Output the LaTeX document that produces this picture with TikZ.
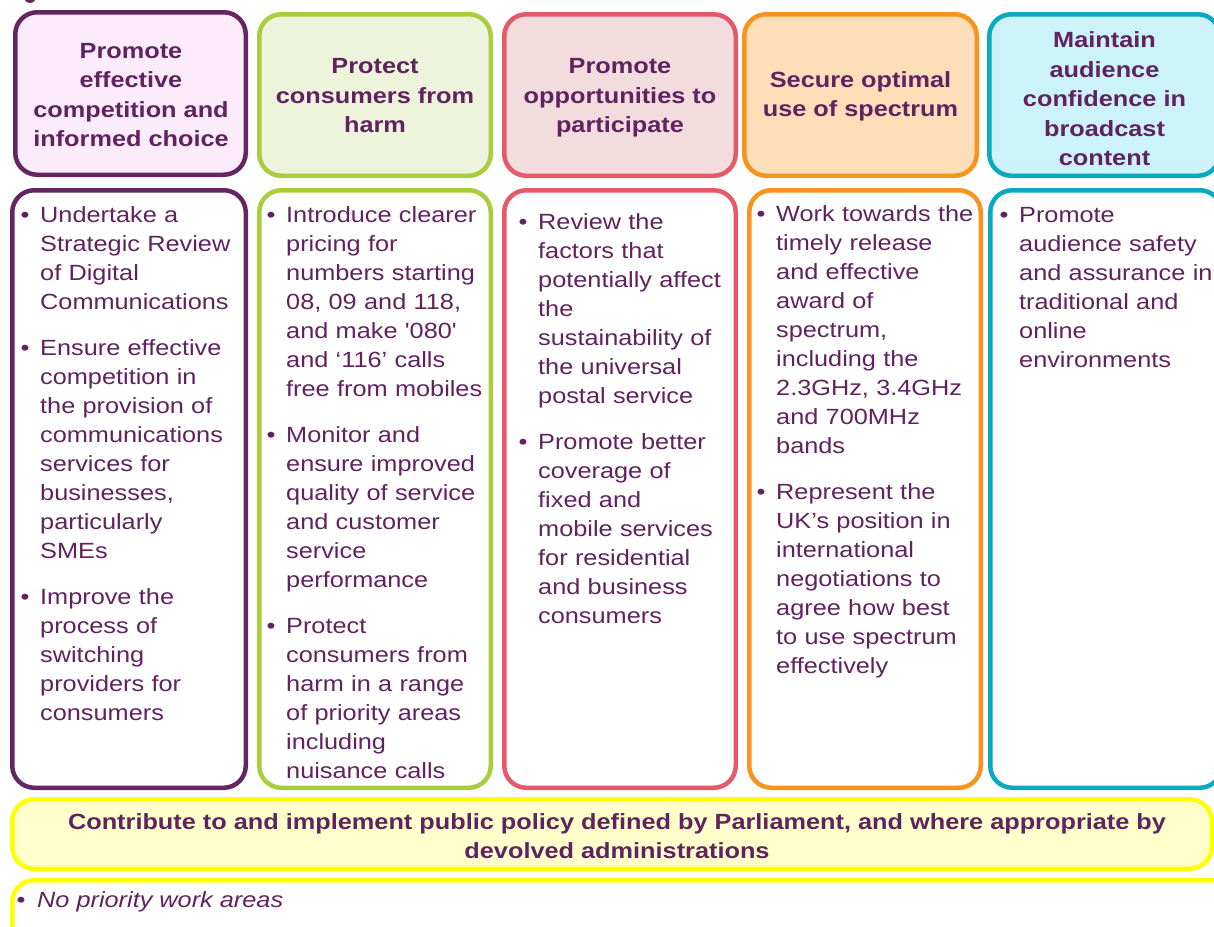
\documentclass[tikz,border=0pt]{standalone}
\usepackage{fontspec}
\setmainfont{Liberation Sans}[FakeStretch=1.15]
\newfontfamily\plainq{Liberation Sans}[FakeStretch=1.15]
\definecolor{txt}{HTML}{602360}
\definecolor{pur}{HTML}{632663}
\definecolor{purf}{HTML}{FCEBFA}
\definecolor{grn}{HTML}{A9CD3C}
\definecolor{grnf}{HTML}{EEF4DC}
\definecolor{pnk}{HTML}{E55A6A}
\definecolor{pnkf}{HTML}{F2DCDE}
\definecolor{org}{HTML}{F7941E}
\definecolor{orgf}{HTML}{FDDEB8}
\definecolor{cyn}{HTML}{0AAABE}
\definecolor{cynf}{HTML}{CCF2FA}
\definecolor{yel}{HTML}{FFFF00}
\definecolor{yelf}{HTML}{FFFFCC}
\newlength\bulind
\setlength\bulind{19.5pt}
\newcommand\bitem[1]{{\leftskip=\bulind\noindent\hspace*{-\bulind}\makebox[\bulind][l]{\strut\char"2022}#1\par}}
\tikzset{
  cbox/.style 2 args={draw=#1, fill=#2, line width=4.5pt, rounded corners=22pt, inner sep=0pt, outer sep=0pt},
  htext/.style={align=center, inner sep=0pt, text=txt, font=\fontsize{22}{29.5}\selectfont\bfseries},
  btext/.style={anchor=north west, inner sep=0pt, text width=240pt, align=left, text=txt, font=\fontsize{22}{29}\selectfont\setlength\parskip{17pt}},
}
\begin{document}
\begin{tikzpicture}[x=1pt,y=-1pt]
\useasboundingbox (0,0) rectangle (1214,926);
\clip (0,0) rectangle (1214,926);
\fill[pur] (30,-3) circle (6);
% top row
\node[cbox={pur}{purf}, minimum width=230.5pt, minimum height=162.5pt] (h1) at (130.5,93.5) {};
\node[cbox={grn}{grnf}, minimum width=231.5pt, minimum height=161.5pt] (h2) at (375,95) {};
\node[cbox={pnk}{pnkf}, minimum width=231.5pt, minimum height=161.5pt] (h3) at (620,95) {};
\node[cbox={org}{orgf}, minimum width=232.5pt, minimum height=161.5pt] (h4) at (860.5,95) {};
\node[cbox={cyn}{cynf}, minimum width=230.5pt, minimum height=161.5pt] (h5) at (1104.5,95) {};
\node[htext] (t1) at (131,95) {Promote\\effective\\competition and\\informed choice};
\node[htext] (t2) at (375,96) {Protect\\consumers from\\harm};
\node[htext] (t3) at (620,98) {Promote\\opportunities to\\participate};
\node[htext] (t4) at (860.5,96.5) {Secure optimal\\use of spectrum};
\node[htext] (t5) at (1104.5,99) {Maintain\\audience\\confidence in\\broadcast\\content};
% bottom row
\node[cbox={pur}{white}, minimum width=233.5pt, minimum height=597.5pt] (b1) at (129,489) {};
\node[cbox={grn}{white}, minimum width=231.5pt, minimum height=597.5pt] (b2) at (375,489) {};
\node[cbox={pnk}{white}, minimum width=231.5pt, minimum height=597.5pt] (b3) at (620,489) {};
\node[cbox={org}{white}, minimum width=231.5pt, minimum height=597.5pt] (b4) at (865,489) {};
\node[cbox={cyn}{white}, minimum width=231.5pt, minimum height=597.5pt] (b5) at (1106,489) {};
\node[btext] (l1) at (20.5,201.7) {%
\bitem{Undertake a\\Strategic Review\\of Digital\\Communications}
\bitem{Ensure effective\\competition in\\the provision of\\communications\\services for\\businesses,\\particularly\\SMEs}
\bitem{Improve the\\process of\\switching\\providers for\\consumers}};
\node[btext] (l2) at (266.5,201.7) {%
\bitem{Introduce clearer\\pricing for\\numbers starting\\08, 09 and 118,\\and make {\plainq '}080{\plainq '}\\and ‘116’ calls\\free from mobiles}
\bitem{Monitor and\\ensure improved\\quality of service\\and customer\\service\\performance}
\bitem{Protect\\consumers from\\harm in a range\\of priority areas\\including\\nuisance calls}};
\node[btext] (l3) at (518.5,208.7) {%
\bitem{Review the\\factors that\\potentially affect\\the\\sustainability of\\the universal\\postal service}
\bitem{Promote better\\coverage of\\fixed and\\mobile services\\for residential\\and business\\consumers}};
\node[btext] (l4) at (756.5,200.7) {%
\bitem{Work towards the\\timely release\\and effective\\award of\\spectrum,\\including the\\2.3GHz, 3.4GHz\\and 700MHz\\bands}
\bitem{Represent the\\UK’s position in\\international\\negotiations to\\agree how best\\to use spectrum\\effectively}};
\node[btext] (l5) at (999.5,201.7) {%
\bitem{Promote\\audience safety\\and assurance in\\traditional and\\online\\environments}};
% yellow band
\node[cbox={yel}{yelf}, minimum width=1199.5pt, minimum height=69.5pt] (y1) at (612,834) {};
\node[htext, font=\fontsize{22}{29}\selectfont\bfseries] (ty1) at (617,836) {Contribute to and implement public policy defined by Parliament, and where appropriate by\\devolved administrations};
\node[cbox={yel}{white}, minimum width=1227.5pt, minimum height=79.5pt] (y2) at (626,920) {};
\node[anchor=base west, inner sep=0pt, text=txt, font=\fontsize{22}{29}\selectfont] (ty2) at (16.5,907) {\makebox[20.5pt][l]{\char"2022}\itshape No priority work areas};
\end{tikzpicture}
\end{document}
